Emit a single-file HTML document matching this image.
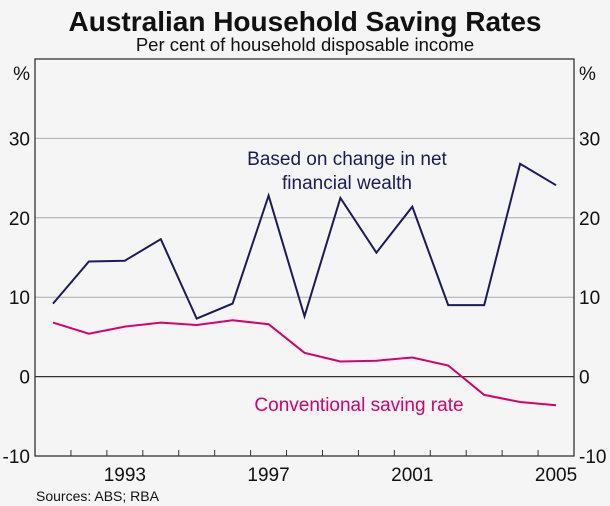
<!DOCTYPE html>
<html><head><meta charset="utf-8"><style>
body{margin:0;background:#f5f5f5;}
svg{display:block;font-family:"Liberation Sans",sans-serif;}
</style></head><body>
<svg width="610" height="506" viewBox="0 0 610 506">
<rect width="610" height="506" fill="#f5f5f5"/>
<text x="305" y="31" text-anchor="middle" font-size="28" font-weight="bold" fill="#111">Australian Household Saving Rates</text>
<text x="305" y="51" text-anchor="middle" font-size="18.5" fill="#111">Per cent of household disposable income</text>
<g id="grid"></g>
<g id="axes"></g>
<g id="series"></g>
<text x="347" y="165" text-anchor="middle" font-size="19" fill="#1a1a5e">Based on change in net</text>
<text x="347" y="189" text-anchor="middle" font-size="19" fill="#1a1a5e">financial wealth</text>
<text x="359" y="411" text-anchor="middle" font-size="19" fill="#d6006e">Conventional saving rate</text>
<text x="36" y="501" font-size="14" fill="#111">Sources: ABS; RBA</text>
</svg>
<script>
const years=[1991,1992,1993,1994,1995,1996,1997,1998,1999,2000,2001,2002,2003,2004,2005];
const wealthRate=[9.2,14.5,14.6,17.3,7.3,9.2,22.8,7.6,22.5,15.6,21.4,9.0,9.0,26.8,24.1];
const conventionalRate=[6.8,5.4,6.3,6.8,6.5,7.1,6.6,3.0,1.9,2.0,2.4,1.4,-2.3,-3.2,-3.6];
const yTicks=[-10,0,10,20,30];
const xLabels=[1993,1997,2001,2005];
const NS="http://www.w3.org/2000/svg";
const L=35,R=574,T=59,B=456,yMin=-10,yMax=40;
const bw=(R-L)/years.length;
function xs(i){return L+bw*(i+0.5);}
function ys(v){return B-(v-yMin)/(yMax-yMin)*(B-T);}
function mk(tag,attrs,parent){const e=document.createElementNS(NS,tag);for(const k in attrs)e.setAttribute(k,attrs[k]);document.getElementById(parent).appendChild(e);return e;}
yTicks.forEach(v=>{
 const y=ys(v);
 if(v>yMin){const g=mk('line',{x1:L,x2:R,y1:y,y2:y,stroke:v===0?'#333':'#aaa','stroke-width':v===0?1.3:1},'grid');
 
 }
 const a=mk('text',{x:L-5,y:y+7,'text-anchor':'end','font-size':19,fill:'#111'},'axes');a.textContent=v;
 
 
 const b=mk('text',{x:R+5,y:y+7,'font-size':19,fill:'#111'},'axes');b.textContent=v;
 
 
});
['left','right'].forEach((s,k)=>{const p=mk('text',{x:k?R+5:L-5,y:T+21,'text-anchor':k?'start':'end','font-size':19,fill:'#111'},'axes');p.textContent='%';
 
 });
const fr=mk('rect',{x:L,y:T,width:R-L,height:B-T,fill:'none',stroke:'#333','stroke-width':1.3},'axes');


for(let i=1;i<years.length;i++){const t=mk('line',{x1:L+bw*i,x2:L+bw*i,y1:B,y2:B-6,stroke:'#333'},'axes');
 
 }
xLabels.forEach(yr=>{const i=years.indexOf(yr);const t=mk('text',{x:xs(i),y:B+25,'text-anchor':'middle','font-size':19,fill:'#111'},'axes');t.textContent=yr;
 
 });
function line(data,color,name){const d=data.map((v,i)=>(i?'L':'M')+xs(i).toFixed(1)+' '+ys(v).toFixed(1)).join(' ');
 const p=mk('path',{d:d,fill:'none',stroke:color,'stroke-width':2,'stroke-linejoin':'miter'},'series');
 
 }
line(conventionalRate,'#d6006e','conventional-saving-line');
line(wealthRate,'#1a1a5e','wealth-saving-line');
</script>
</body></html>
